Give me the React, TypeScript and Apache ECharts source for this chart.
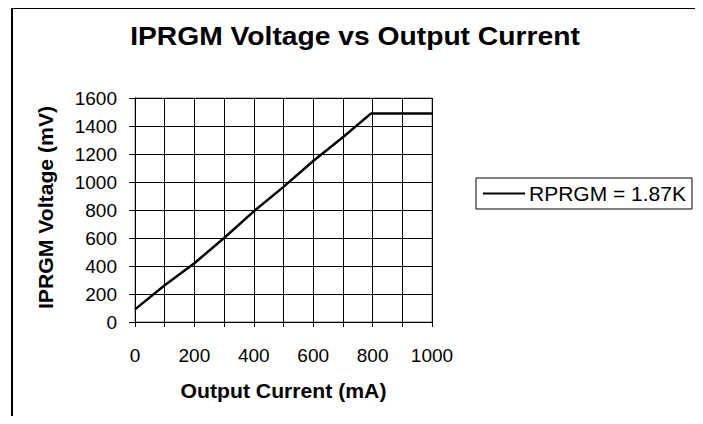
import React, { useEffect, useRef } from "react";
import * as echarts from "echarts";

const titleText = "IPRGM Voltage vs Output Current";
const xAxisTitle = "Output Current (mA)";
const yAxisTitle = "IPRGM Voltage (mV)";
const seriesName = "RPRGM = 1.87K";
const currentMA = [0, 100, 200, 300, 400, 500, 600, 700, 795, 800, 900, 1000];
const voltageMV = [90, 262, 420, 600, 790, 965, 1150, 1320, 1490, 1490, 1490, 1490];

const FONT = "Liberation Sans, Arial, sans-serif";

export default function App() {
  const ref = useRef<HTMLDivElement>(null);
  useEffect(() => {
    if (!ref.current) return;
    const chart = echarts.init(ref.current, undefined, { renderer: "svg" });
    chart.setOption({
      animation: false,
      backgroundColor: "#ffffff",
      textStyle: { fontFamily: FONT },
      graphic: [
        {
          type: "polyline",
          z: 100,
          silent: true,
          shape: { points: [[12, 430], [12, 8], [697, 8], [697, 430]] },
          style: { fill: "none", stroke: "#000", lineWidth: 2 },
        },
        {
          type: "text",
          x: 355,
          y: 37,
          scaleX: 1.13,
          style: {
            text: titleText,
            fontFamily: FONT,
            fontWeight: "bold",
            fontSize: 25,
            fill: "#000",
            textAlign: "center",
            textVerticalAlign: "middle",
          },
        },
        {
          type: "text",
          x: 283.5,
          y: 391,
          scaleX: 1.06,
          style: {
            text: xAxisTitle,
            fontFamily: FONT,
            fontWeight: "bold",
            fontSize: 20,
            fill: "#000",
            textAlign: "center",
            textVerticalAlign: "middle",
          },
        },
        {
          type: "text",
          x: 46,
          y: 207.5,
          rotation: Math.PI / 2,
          scaleX: 1.06,
          style: {
            text: yAxisTitle,
            fontFamily: FONT,
            fontWeight: "bold",
            fontSize: 20,
            fill: "#000",
            textAlign: "center",
            textVerticalAlign: "middle",
          },
        },
        {
          type: "rect",
          shape: { x: 135, y: 98, width: 297, height: 224 },
          style: { fill: "none", stroke: "#808080", lineWidth: 1 },
          silent: true,
          z: 0,
        },
      ],
      legend: {
        left: 476,
        top: 178,
        orient: "vertical",
        data: [seriesName],
        icon: "rect",
        itemWidth: 42,
        itemHeight: 2,
        padding: [5, 6, 5, 7],
        borderColor: "#000",
        borderWidth: 1,
        textStyle: { fontFamily: FONT, fontSize: 21, color: "#000", padding: [0, 0, 0, -1] },
      },
      grid: { left: 135, top: 98, width: 297, height: 224, containLabel: false },
      xAxis: {
        type: "value",
        min: 0,
        max: 1000,
        interval: 100,
        axisLine: { show: true, lineStyle: { color: "#000", width: 1 } },
        axisTick: { show: true, length: 5, inside: false, lineStyle: { color: "#000" } },
        axisLabel: {
          margin: 24,
          fontFamily: FONT,
          fontSize: 19,
          color: "#000",
          formatter: (v: number) => (v % 200 === 0 ? String(v) : ""),
        },
        splitLine: { show: true, lineStyle: { color: "#000", width: 1 } },
      },
      yAxis: {
        type: "value",
        min: 0,
        max: 1600,
        interval: 200,
        axisLine: { show: true, lineStyle: { color: "#000", width: 1 } },
        axisTick: { show: true, length: 6, inside: false, lineStyle: { color: "#000" } },
        axisLabel: {
          margin: 18,
          fontFamily: FONT,
          fontSize: 19,
          color: "#000",
          formatter: (v: number) => String(v),
        },
        splitLine: { show: true, lineStyle: { color: "#000", width: 1 } },
      },
      series: [
        {
          name: seriesName,
          type: "line",
          data: currentMA.map((x, i) => [x, voltageMV[i]]),
          symbol: "none",
          lineStyle: { color: "#000", width: 2.5 },
          itemStyle: { color: "#000" },
          z: 5,
        },
      ],
    });
    return () => chart.dispose();
  }, []);
  return <div ref={ref} style={{ width: 703, height: 424, margin: -8 }} />;
}
